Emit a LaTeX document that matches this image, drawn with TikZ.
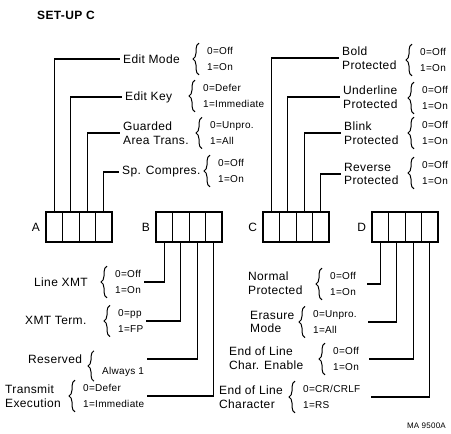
\documentclass[tikz,border=0pt]{standalone}
\usepackage{fontspec}
\setmainfont{Liberation Sans}[LetterSpace=3]
\usetikzlibrary{positioning,decorations.pathreplacing}

\begin{document}
\begin{tikzpicture}[x=1pt, y=-1pt,
      every node/.style={inner sep=0pt},
      cell/.style={draw, line width=0.8pt,
                   minimum width=16.5pt, minimum height=30pt},
      regbox/.style={draw, line width=1.7pt,
                   minimum width=66pt, minimum height=30pt},
      field/.style={anchor=west, align=left, inner xsep=3pt,
                   font=\fontsize{12}{13.5}\selectfont},
      opts/.style={anchor=west, align=left, inner xsep=3pt, inner ysep=4pt,
                   font=\fontsize{10}{16}\selectfont},
      lead/.style={line width=1.1pt},
      brace/.style={decorate, decoration={brace, amplitude=6pt},
                   line width=1pt}]
    \useasboundingbox (0,0) rectangle (451,434);

    \node[anchor=west, font=\bfseries\fontsize{12}{14}\selectfont] (title)
      at (37,15) {SET-UP C};
    \node[anchor=east, font=\fontsize{8}{9}\selectfont] (fig)
      at (446,426) {MA 9500A};

    % the four setup registers
    \foreach \r/\x in {a/46, b/156, c/263, d/372} {
      \foreach \i in {1,...,4}
        \node[cell] (\r\i) at (\x+16.5*\i-8.25, 227) {};
      \node[regbox] (\r) at (\x+33, 227) {};
    }
    \node[left=5pt of a, font=\fontsize{12}{13}\selectfont] (la) {A};
    \node[left=5pt of b, font=\fontsize{12}{13}\selectfont] (lb) {B};
    \node[left=5pt of c, font=\fontsize{12}{13}\selectfont] (lc) {C};
    \node[left=5pt of d, font=\fontsize{12}{13}\selectfont] (ld) {D};

    % register A
    \node[field] (editmode) at (120,59) {Edit Mode};
    \node[field] (editkey) at (122,97) {Edit Key};
    \node[field] (guarded) at (120,133) {Guarded\\Area Trans.};
    \node[field] (spcomp) at (119,172) {Sp. Compres.};
    \node[opts] (editmode-o) at (204,59) {0=Off\\1=On};
    \node[opts] (editkey-o) at (200,96) {0=Defer\\1=Immediate};
    \node[opts] (guarded-o) at (207,133) {0=Unpro.\\1=All};
    \node[opts] (spcomp-o) at (215,171) {0=Off\\1=On};

    % register C
    \node[field] (bold) at (339,58) {Bold\\Protected};
    \node[field] (underline) at (340,97) {Underline\\Protected};
    \node[field] (blink) at (341,133) {Blink\\Protected};
    \node[field] (reverse) at (341,174) {Reverse\\Protected};
    \node[opts] (bold-o) at (417,60) {0=Off\\1=On};
    \node[opts] (underline-o) at (419,98) {0=Off\\1=On};
    \node[opts] (blink-o) at (419,133) {0=Off\\1=On};
    \node[opts] (reverse-o) at (419,173) {0=Off\\1=On};

    % register B
    \node[field] (linexmt) at (31,282) {Line XMT};
    \node[field] (xmtterm) at (22,320) {XMT Term.};
    \node[field] (reserved) at (25,359) {Reserved};
    \node[field] (transmit) at (2,396) {Transmit\\Execution};
    \node[opts] (linexmt-o) at (112,282) {0=Off\\1=On};
    \node[opts] (xmtterm-o) at (115,321) {0=pp\\1=FP};
    \node[opts] (reserved-o) at (99,366) {\mbox{}\\[4pt]Always 1};
    \node[opts] (transmit-o) at (80,396) {0=Defer\\1=Immediate};

    % register D
    \node[field] (normal) at (245,283) {Normal\\Protected};
    \node[field] (erasure) at (247,322) {Erasure\\Mode};
    \node[field] (eolenable) at (226,358) {End of Line\\Char. Enable};
    \node[field] (eolchar) at (216,397) {End of Line\\Character};
    \node[opts] (eolchar-o) at (300,397) {0=CR/CRLF\\1=RS};
    \node[opts] (normal-o) at (327,284) {0=Off\\1=On};
    \node[opts] (erasure-o) at (310,322) {0=Unpro.\\1=All};
    \node[opts] (eolenable-o) at (330,359) {0=Off\\1=On};

    \foreach \o in {editmode-o, editkey-o, guarded-o, spcomp-o,
                    bold-o, underline-o, blink-o, reverse-o,
                    linexmt-o, xmtterm-o, reserved-o, transmit-o,
                    normal-o, erasure-o, eolenable-o, eolchar-o}
      \draw[brace] ([xshift=-5pt]\o.south west) -- ([xshift=-5pt]\o.north west);

    \draw[lead] (a1.north) |- (editmode.west);
    \draw[lead] (a2.north) |- (editkey.west);
    \draw[lead] (a3.north) |- (guarded.west);
    \draw[lead] (a4.north) |- (spcomp.west);
    \draw[lead] (c1.north) |- (bold.west);
    \draw[lead] (c2.north) |- (underline.west);
    \draw[lead] (c3.north) |- (blink.west);
    \draw[lead] (c4.north) |- (reverse.west);
    \draw[lead] (b1.south) |- (linexmt-o.east);
    \draw[lead] (b2.south) |- (xmtterm-o.east);
    \draw[lead] (b3.south) |- (reserved-o.east |- reserved);
    \draw[lead] (b4.south) |- (transmit-o.east);
    \draw[lead] (d1.south) |- ([xshift=8pt]normal-o.east);
    \draw[lead] (d2.south) |- ([xshift=8pt]erasure-o.east);
    \draw[lead] (d3.south) |- ([xshift=7pt]eolenable-o.east);
    \draw[lead] (d4.south) |- ([xshift=7pt]eolchar-o.east);
  \end{tikzpicture}
\end{document}
